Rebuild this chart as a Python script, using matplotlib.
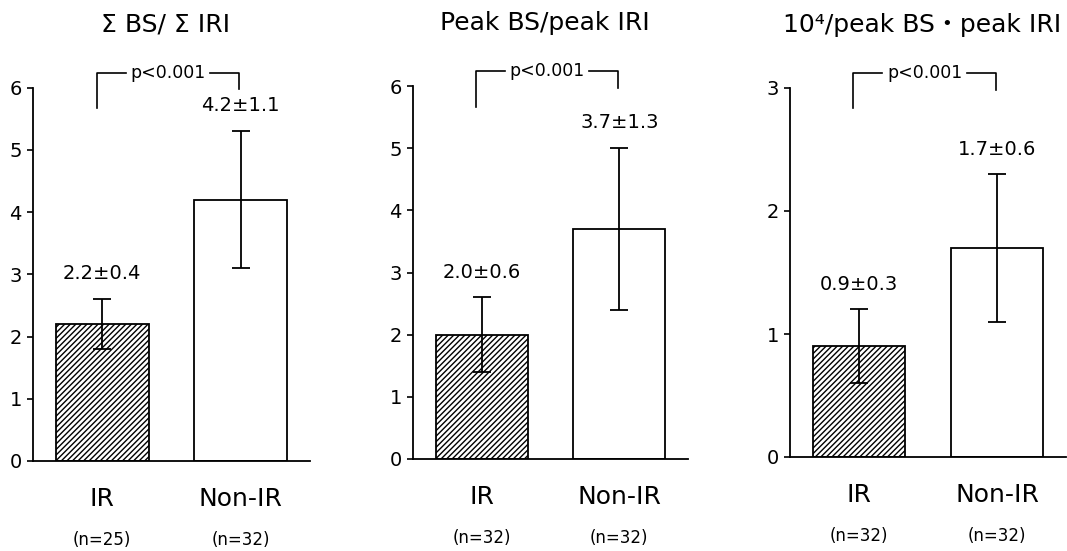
import matplotlib
matplotlib.use('Agg')
import matplotlib.pyplot as plt

plt.rcParams['font.family'] = ['DejaVu Sans', 'Noto Sans CJK JP']
plt.rcParams['hatch.linewidth'] = 1.0

# data
titles = ['Σ BS/ Σ IRI', 'Peak BS/peak IRI', '10⁴/peak BS・peak IRI']
groups = ['IR', 'Non-IR']
means = [[2.2, 4.2], [2.0, 3.7], [0.9, 1.7]]
sds = [[0.4, 1.1], [0.6, 1.3], [0.3, 0.6]]
ns = [[25, 32], [32, 32], [32, 32]]
ymaxs = [6, 6, 3]
p_labels = ['p<0.001', 'p<0.001', 'p<0.001']

W, H = 1067, 551
fig = plt.figure(figsize=(W / 100, H / 100), dpi=100)

# axes boxes in pixels: left, right, bottom(y of 0), top(y of max)
boxes = [(33, 310, 461, 87.5), (413, 688, 459, 86), (790, 1066, 457, 88)]

for i in range(3):
    l, r, b, t = boxes[i]
    ax = fig.add_axes([l / W, (H - b) / H, (r - l) / W, (b - t) / H])
    ymax = ymaxs[i]
    x = [0, 1]

    ax.bar(x, means[i], width=0.67, color='white', edgecolor='black',
           linewidth=1.3, hatch=['//////', None], zorder=2)
    ax.errorbar(x, means[i], yerr=sds[i], fmt='none', ecolor='black',
                elinewidth=1.3, capsize=6.5, capthick=1.3, zorder=3)

    for j in range(2):
        ax.text(x[j], means[i][j] + sds[i][j] + 0.068 * ymax,
                f'{means[i][j]:.1f}±{sds[i][j]:.1f}',
                ha='center', va='center', fontsize=14, clip_on=False)
        ax.annotate(f'(n={ns[i][j]})', xy=(x[j], 0), xycoords=('data', 'axes fraction'),
                    xytext=(0, -57), textcoords='offset points',
                    ha='center', va='center', fontsize=12)

    # significance bracket
    top = ymax * 1.04
    ax.plot([-0.04, -0.04, 0.17], [ymax * 0.945, top, top], color='black',
            lw=1.2, clip_on=False)
    ax.plot([0.78, 0.99, 0.99], [top, top, ymax * 0.995], color='black',
            lw=1.2, clip_on=False)
    ax.text(0.475, top, p_labels[i], ha='center', va='center', fontsize=12.5)

    ax.set_xlim(-0.5, 1.5)
    ax.set_ylim(0, ymax)
    ax.set_yticks(range(ymax + 1))
    ax.set_xticks(x)
    ax.set_xticklabels(groups, fontsize=18)
    ax.tick_params(axis='x', length=0, pad=19)
    ax.tick_params(axis='y', length=4, width=1.2, pad=4, labelsize=14)
    for s in ['top', 'right']:
        ax.spines[s].set_visible(False)
    for s in ['left', 'bottom']:
        ax.spines[s].set_linewidth(1.3)
    ax.set_title(titles[i], fontsize=18, pad=40, x=0.48)

fig.savefig('out.png', dpi=100)
